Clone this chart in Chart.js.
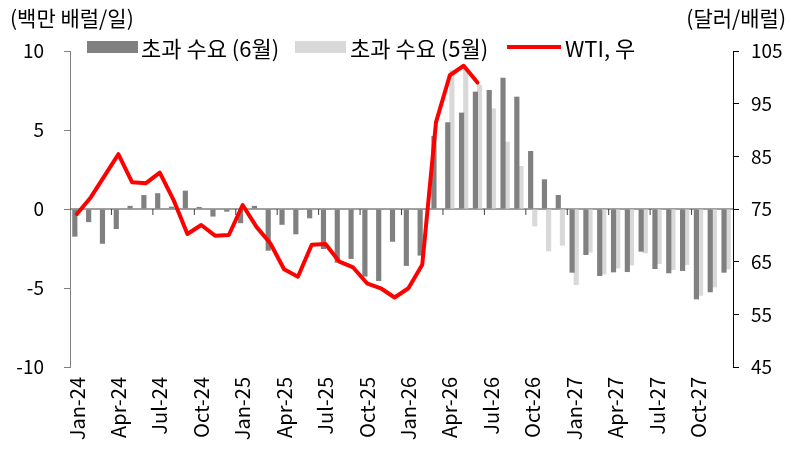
<!doctype html>
<html>
<head>
<meta charset="utf-8">
<title>초과 수요와 WTI</title>
<script src="https://cdn.jsdelivr.net/npm/chart.js@4.4.1/dist/chart.umd.min.js"></script>
<style>
  body { margin: 0; background: #fff; }
  #wrap { position: relative; width: 791px; height: 452px; font-family: 'Noto Sans CJK KR', sans-serif; color: #000; }
  #wrap canvas { position: absolute; left: 0; top: 0; }
  .unit { position: absolute; top: 3px; font-size: 21px; line-height: 28px; white-space: nowrap; }
  .lg { position: absolute; top: 33px; height: 28px; font-size: 22px; line-height: 28px; white-space: nowrap; }
  .sw { position: absolute; }
</style>
</head>
<body>
<div id="wrap">
  <canvas id="canvas" width="791" height="452"></canvas>
  <div class="unit" style="left:10px">(백만 배럴/일)</div>
  <div class="unit" style="right:5px">(달러/배럴)</div>
  <div class="sw" style="left:87px;top:41px;width:51px;height:12px;background:#808080"></div>
  <div class="lg" style="left:141px">초과 수요 (6월)</div>
  <div class="sw" style="left:295px;top:41px;width:51px;height:12px;background:#d9d9d9"></div>
  <div class="lg" style="left:350px">초과 수요 (5월)</div>
  <div class="sw" style="left:507px;top:45px;width:54px;height:4px;background:#ff0000"></div>
  <div class="lg" style="left:565px">WTI, 우</div>
</div>

<script>
// monthly, Jan-24 .. Dec-27
var monNames = ['Jan', 'Feb', 'Mar', 'Apr', 'May', 'Jun', 'Jul', 'Aug', 'Sep', 'Oct', 'Nov', 'Dec'];
var months = [];
[24, 25, 26, 27].forEach(function (yr) {
    monNames.forEach(function (m) { months.push(m + '-' + yr); });
});

// 초과 수요 (6월), million bbl/day
var demandJun = [
    -1.75, -0.83, -2.2, -1.27, 0.2, 0.88, 1.0, 0.15, 1.16, 0.13, -0.48, -0.17,
    -0.9, 0.2, -2.64, -1.0, -1.6, -0.59, -2.53, -3.4, -3.16, -4.28, -4.56, -2.07,
    -3.6, -2.95, 4.62, 5.49, 6.1, 7.43, 7.53, 8.31, 7.11, 3.67, 1.88, 0.89,
    -4.03, -2.91, -4.24, -4.01, -3.99, -2.7, -3.8, -4.07, -3.92, -5.72, -5.27, -4.03
];

// 초과 수요 (5월), million bbl/day
var demandMay = [
    null, null, null, null, null, null, null, null, null, null, null, null,
    null, null, null, null, null, null, null, null, null, null, null, null,
    null, null, null, 8.8, 9.0, 7.85, 6.37, 4.26, 2.72, -1.1, -2.68, -2.32,
    -4.81, -2.76, -4.14, -3.76, -3.57, -2.81, -3.48, -3.86, -3.54, -5.49, -4.96, -3.82
];

// WTI, $/bbl (right axis)
var wti = [
    74.05, 77.2, 81.3, 85.4, 80.07, 79.9, 81.9, 76.7, 70.25, 71.96, 69.93, 70.06,
    75.76, 71.6, 68.5, 63.55, 62.15, 68.2, 68.35, 65.0, 63.9, 60.9, 59.95, 58.2,
    59.95, 64.4, 91.5, 100.4, 102.2, 99.0
];

var leftTicks = [-10, -5, 0, 5, 10];
var rightTicks = [45, 55, 65, 75, 85, 95, 105];

Chart.defaults.font.family = "'Noto Sans CJK KR', sans-serif";
Chart.defaults.color = '#000';

// zero line with small marks every quarter
var zeroLine = {
    id: 'zeroLine',
    beforeDatasetsDraw: function (chart) {
        var ctx = chart.ctx, x = chart.scales.x, y = chart.scales.y;
        var y0 = y.getPixelForValue(0);
        ctx.save();
        ctx.strokeStyle = '#404040';
        ctx.lineWidth = 1;
        ctx.beginPath();
        ctx.moveTo(chart.chartArea.left, y0);
        ctx.lineTo(chart.chartArea.right, y0);
        for (var i = 3; i < months.length; i += 3) {
            var bx = (x.getPixelForValue(i - 1) + x.getPixelForValue(i)) / 2;
            ctx.moveTo(bx, y0);
            ctx.lineTo(bx, y0 + 6);
        }
        ctx.stroke();
        ctx.restore();
    }
};

var config = {
    type: 'bar',
    data: {
        labels: months,
        datasets: [{
            type: 'line',
            label: 'WTI, 우',
            data: wti,
            yAxisID: 'y1',
            borderColor: '#ff0000',
            borderWidth: 4,
            borderJoinStyle: 'round',
            borderCapStyle: 'round',
            pointRadius: 0,
            tension: 0,
            order: 0
        }, {
            label: '초과 수요 (6월)',
            data: demandJun,
            backgroundColor: '#808080',
            categoryPercentage: 0.6,
            barPercentage: 1.25,
            order: 1
        }, {
            label: '초과 수요 (5월)',
            data: demandMay,
            backgroundColor: '#d9d9d9',
            categoryPercentage: 0.6,
            barPercentage: 1.25,
            order: 2
        }]
    },
    options: {
        responsive: false,
        animation: false,
        layout: { padding: { top: 51, left: 0, right: 0, bottom: 0 } },
        plugins: {
            legend: { display: false },
            tooltip: { enabled: false }
        },
        scales: {
            x: {
                grid: { display: false, drawTicks: false },
                border: { display: false },
                ticks: {
                    autoSkip: false,
                    maxRotation: 90,
                    minRotation: 90,
                    padding: 10,
                    font: { size: 20 },
                    callback: function (v, i) { return i % 3 === 0 ? months[i] : ''; }
                },
                afterFit: function (s) { s.height = 85; }
            },
            y: {
                position: 'left',
                min: -10,
                max: 10,
                afterBuildTicks: function (s) { s.ticks = leftTicks.map(function (v) { return { value: v }; }); },
                grid: { drawOnChartArea: false, tickLength: 6, color: '#808080' },
                border: { color: '#808080', width: 1 },
                ticks: { padding: 20, font: { size: 19 } },
                afterFit: function (s) { s.width = 70; }
            },
            y1: {
                position: 'right',
                min: 45,
                max: 105,
                afterBuildTicks: function (s) { s.ticks = rightTicks.map(function (v) { return { value: v }; }); },
                grid: { drawOnChartArea: false, tickLength: 6, color: '#000' },
                border: { color: '#000', width: 1 },
                ticks: { padding: 12, font: { size: 19 } },
                afterFit: function (s) { s.width = 58; }
            }
        }
    },
    plugins: [zeroLine]
};

window.onload = function () {
    window.myChart = new Chart(document.getElementById('canvas'), config);
};
</script>
</body>
</html>
